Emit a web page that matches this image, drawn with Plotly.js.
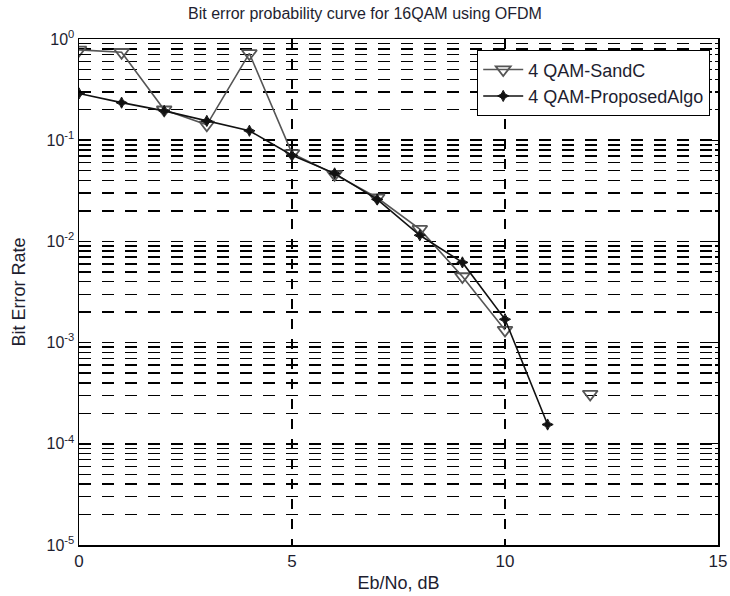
<!DOCTYPE html>
<html>
<head>
<meta charset="utf-8">
<script src="https://cdn.plot.ly/plotly-3.0.1.min.js"></script>
<style>html,body{margin:0;padding:0;background:#fff;}#chart{width:730px;height:596px;}</style>
</head>
<body>
<div id="chart"></div>
<script>
// Data
const ebno = [0, 1, 2, 3, 4, 5, 6, 7, 8, 9, 10, 11, 12];
const berSandC = [0.78, 0.74, 0.20, 0.142, 0.72, 0.074, 0.046, 0.027, 0.0132, 0.0045, 0.00133, null, 0.00031];
const berProposed = [0.29, 0.235, 0.195, 0.155, 0.124, 0.071, 0.047, 0.026, 0.0115, 0.0062, 0.0017, 0.000155, null];
const seriesNames = ['4 QAM-SandC', '4 QAM-ProposedAlgo'];
const xTickVals = [0, 5, 10, 15];
const yTickVals = [1e-5, 1e-4, 1e-3, 1e-2, 1e-1, 1];
const yTickText = ['10<sup>-5</sup>', '10<sup>-4</sup>', '10<sup>-3</sup>', '10<sup>-2</sup>', '10<sup>-1</sup>', '10<sup>0</sup>'];

// minor log grid positions (2..9 x each decade)
const yMinorVals = [];
for (let k = -5; k < 0; k++) { for (let m = 2; m <= 9; m++) { yMinorVals.push(m * Math.pow(10, k)); } }

const txt = '#1e1e30';
const fam = 'Liberation Sans, Arial, sans-serif';
const dashPat = '12px,11px';

const traces = [
  {
    x: ebno, y: berSandC, name: seriesNames[0], type: 'scatter', mode: 'lines+markers',
    connectgaps: false,
    line: {color: '#555555', width: 1.6},
    marker: {symbol: 'triangle-down-open', size: 13, color: '#555555', line: {width: 1.8, color: '#555555'}}
  },
  {
    x: ebno, y: berProposed, name: seriesNames[1], type: 'scatter', mode: 'lines+markers',
    connectgaps: false,
    line: {color: '#111111', width: 1.6},
    marker: {symbol: 'star-diamond', size: 8, color: '#111111', line: {width: 1, color: '#111111'}}
  }
];

const layout = {
  width: 730, height: 596,
  margin: {l: 79, r: 12, t: 39, b: 51},
  paper_bgcolor: '#fff', plot_bgcolor: '#fff',
  font: {family: fam, size: 14, color: txt},
  showlegend: true,
  title: {text: 'Bit error probability curve for 16QAM using OFDM', font: {family: fam, size: 16, color: txt},
          x: 0.5, xanchor: 'center', xref: 'container', y: 1 - 13/596, yanchor: 'middle', yref: 'container'},
  xaxis: {
    range: [0, 15], tickmode: 'array', tickvals: xTickVals, ticktext: xTickVals.map(String),
    showgrid: true, gridcolor: '#000', gridwidth: 1.5, griddash: '10px,10px',
    zeroline: false, showline: true, linecolor: '#000', linewidth: 1.5, mirror: 'allticks',
    ticks: 'inside', ticklen: 6, tickcolor: '#000', tickwidth: 1.2,
    tickfont: {family: fam, size: 17, color: txt},
    title: {text: 'Eb/No, dB', font: {family: fam, size: 18, color: txt}, standoff: 6}
  },
  yaxis: {
    type: 'log', range: [-5, 0], tickmode: 'array', tickvals: yTickVals, ticktext: yTickText,
    showgrid: true, gridcolor: '#000', gridwidth: 1.5, griddash: dashPat,
    zeroline: false, showline: true, linecolor: '#000', linewidth: 1.5, mirror: 'allticks',
    ticks: 'inside', ticklen: 6, tickcolor: '#000', tickwidth: 1.2,
    tickfont: {family: fam, size: 16, color: txt},
    minor: {tickmode: 'array', tickvals: yMinorVals, ticks: 'inside', ticklen: 3, tickcolor: '#000',
            showgrid: true, gridcolor: '#000', gridwidth: 1.5, griddash: dashPat},
    title: {text: 'Bit Error Rate', font: {family: fam, size: 18, color: txt}, standoff: 16}
  },
  legend: {
    x: 0.9875, xanchor: 'right', y: 0.978, yanchor: 'top',
    bgcolor: '#fff', bordercolor: '#000', borderwidth: 1.2,
    font: {family: fam, size: 18, color: txt},
    itemwidth: 40
  }
};

Plotly.newPlot('chart', traces, layout, {displayModeBar: false, staticPlot: true});
</script>
</body>
</html>
